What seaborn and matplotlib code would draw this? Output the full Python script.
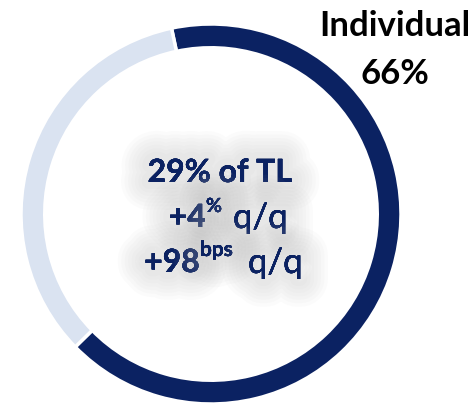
import matplotlib
matplotlib.use("Agg")
import matplotlib.pyplot as plt
import matplotlib.patheffects as pe
import seaborn as sns

# -------------------------------
# Data
# -------------------------------
segments = ["Individual", "Other"]
shares = [66, 34]
colors = ["#0B2262", "#DAE3F1"]

label_name = "Individual"
label_value = "66%"
center_line1 = "29% of TL"
growth_main = "+4"
growth_sup = "%"
bps_main = "+98"
bps_sup = "bps"
qq = "q/q"

# -------------------------------
# Figure
# -------------------------------
sns.set_theme(style="white")
plt.rcParams["font.family"] = ["Lato", "DejaVu Sans"]

W, H = 477, 406
fig = plt.figure(figsize=(W / 100, H / 100), dpi=100)
fig.patch.set_facecolor("white")

cx, cy, r = 211, 215, 190
ax = fig.add_axes([(cx - r) / W, (H - cy - r) / H, 2 * r / W, 2 * r / H])
ax.pie(shares, colors=colors, startangle=102, counterclock=False,
       radius=1.0, wedgeprops=dict(width=0.125, edgecolor="white", linewidth=2.5))
ax.set_xlim(-1.0, 1.0)
ax.set_ylim(-1.0, 1.0)
ax.set_aspect("equal")
ax.axis("off")

# soft glow behind center text
glow = [pe.withStroke(linewidth=lw, foreground="#b0b0b0", alpha=0.045)
        for lw in (40, 35, 30, 25, 20, 15, 10)]
glow.append(pe.Normal())

navy = "#0B2262"


def ftext(px, py, s, **kw):
    return fig.text(px / W, 1 - py / H, s, path_effects=glow, color=navy, va="baseline", **kw)


ftext(220, 183, center_line1, ha="center", fontsize=23, fontweight="bold")
ftext(206, 228, growth_main, ha="right", fontsize=23, fontweight="bold")
ftext(206, 213, growth_sup, ha="left", fontsize=14, fontweight="bold")
ftext(233, 229, qq, ha="left", fontsize=25)
ftext(200, 273, bps_main, ha="right", fontsize=23, fontweight="bold")
ftext(200, 257, bps_sup, ha="left", fontsize=15, fontweight="bold")
ftext(248, 274, qq, ha="left", fontsize=25)

fig.text(395 / W, 1 - 36 / H, label_name, ha="center", va="baseline",
         fontsize=25, fontweight="bold", color="black")
fig.text(395 / W, 1 - 84 / H, label_value, ha="center", va="baseline",
         fontsize=25, fontweight="bold", color="black")

fig.savefig("out.png", dpi=100)
